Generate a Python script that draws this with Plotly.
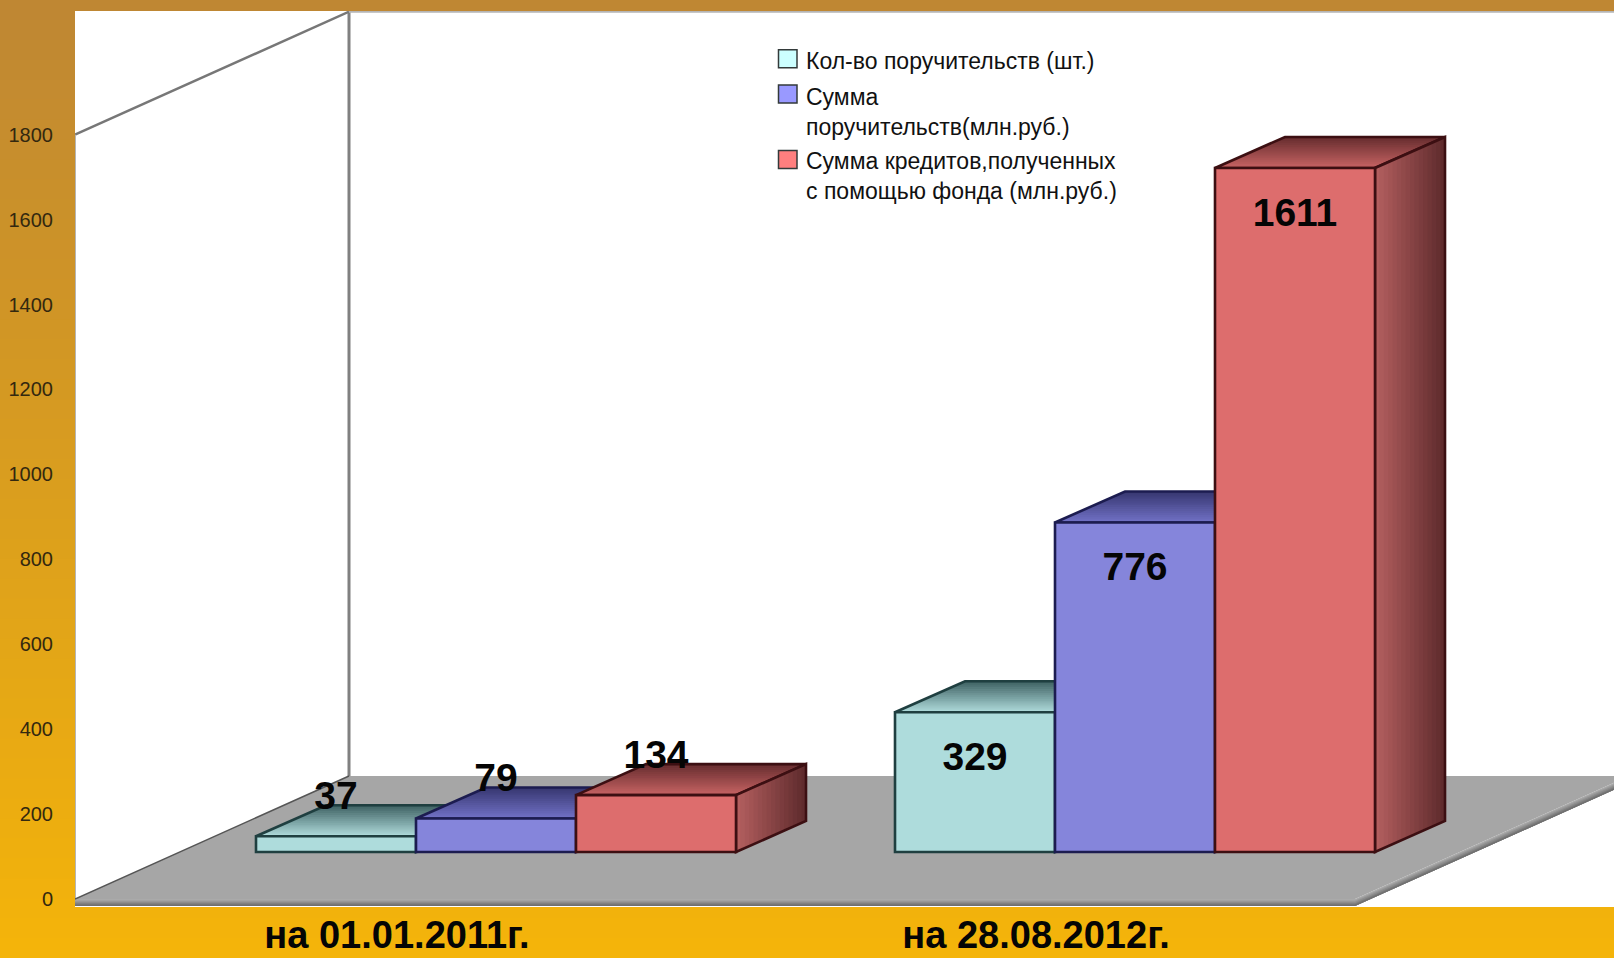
import plotly.graph_objects as go

# ---- data ----
GROUPS = ["на 01.01.2011г.", "на 28.08.2012г."]
SERIES = ["Кол-во поручительств (шт.)", "Сумма<br>поручительств(млн.руб.)",
          "Сумма кредитов,полученных<br>с помощью фонда (млн.руб.)"]
V_COUNT = [37, 329]
V_GUARANTEE = [79, 776]
V_CREDIT = [134, 1611]
Y_TICKS = [0, 200, 400, 600, 800, 1000, 1200, 1400, 1600, 1800]

# ---- styles ----
FRONT = ["#aedcdc", "#8585db", "#dd6d6d"]
EDGE = ["#1f3f40", "#1c1c50", "#3c0f12"]
LEGEND = ["#ccffff", "#9999ff", "#ff7f7f"]
TOP_FROM = [(172, 216, 216), (112, 112, 196), (196, 98, 98)]
TOP_TO = [(58, 92, 94), (52, 52, 108), (98, 42, 44)]
SIDE_FROM = [(172, 216, 216), (112, 112, 196), (178, 94, 94)]
SIDE_TO = [(58, 92, 94), (52, 52, 108), (90, 40, 42)]

W, H = 1614, 958
L, R, T, B = 75, 0, 11, 51
X_UNIT = 639.0      # pixels per group step
Y_UNIT = 0.4246     # pixels per value unit
X0_PX, Y0_PX = 496.0, 899.0
PW, PH = W - L - R, H - T - B

x_range = [(L - X0_PX) / X_UNIT, (W - R - X0_PX) / X_UNIT]
y_range = [(Y0_PX - (H - B)) / Y_UNIT, (Y0_PX - T) / Y_UNIT]

BAR_W = 160 / X_UNIT
BASE = 47 / Y_UNIT           # bars stand on the floor, in front of the wall
DX, DY = 70 / X_UNIT, 31 / Y_UNIT
WX, WY = 274 / X_UNIT, 123 / Y_UNIT
WALL_X = x_range[0]
FLOOR_R = (1355 - X0_PX) / X_UNIT
EDGE_H = 7 / Y_UNIT
TOP_WALL = 1800
OUTLINE = 2.6


def mix(a, b, t):
    return "rgb(%d,%d,%d)" % tuple(round(a[i] + (b[i] - a[i]) * t) for i in range(3))


def poly(pts, fill=None, line=None, width=0):
    d = "M" + " L".join(f"{x:.5f},{y:.3f}" for x, y in pts) + " Z"
    return dict(type="path", path=d, xref="x", yref="y", layer="below",
                fillcolor=fill or "rgba(0,0,0,0)",
                line=dict(color=line or "rgba(0,0,0,0)", width=width))


def px_x(p):
    return (p - L) / PW


def px_y(p):
    return (H - B - p) / PH


shapes = []
# gold backdrop, painted top-down: each band covers everything below it
GOLD_A, GOLD_B = (191, 135, 51), (244, 180, 10)
N_BG = 48
for k in range(N_BG):
    shapes.append(dict(type="rect", xref="paper", yref="paper", layer="below",
                       x0=px_x(0), x1=1, y0=px_y(H), y1=px_y(H * k / N_BG),
                       fillcolor=mix(GOLD_A, GOLD_B, k / (N_BG - 1)), line=dict(width=0)))

# white walls
shapes.append(dict(type="rect", xref="paper", yref="paper", layer="below", x0=0, x1=1, y0=0, y1=1,
                   fillcolor="white", line=dict(width=0)))
# floor
shapes.append(poly([(WALL_X, 0), (WALL_X + WX, WY), (FLOOR_R + WX, WY), (FLOOR_R, 0)], fill="#a6a6a6"))
N_EDGE = 5
for k in range(N_EDGE):
    c = mix((170, 170, 170), (112, 112, 112), k / (N_EDGE - 1))
    e = EDGE_H * k / N_EDGE
    shapes.append(poly([(WALL_X, -e), (FLOOR_R, -e), (FLOOR_R, -EDGE_H), (WALL_X, -EDGE_H)], fill=c))
    shapes.append(poly([(FLOOR_R, -e), (FLOOR_R + WX, WY - e), (FLOOR_R + WX, WY - EDGE_H), (FLOOR_R, -EDGE_H)], fill=c))
# wall lines
shapes.append(poly([(WALL_X + WX, WY), (WALL_X + WX, TOP_WALL + WY)], line="#808080", width=3))
shapes.append(poly([(WALL_X, TOP_WALL), (WALL_X + WX, TOP_WALL + WY)], line="#777777", width=2.5))
shapes.append(poly([(WALL_X, 0), (WALL_X, TOP_WALL)], line="#b5b5b5", width=2))
shapes.append(poly([(WALL_X + WX, TOP_WALL + WY), (x_range[1], TOP_WALL + WY)], line="#b5b5b5", width=2))
shapes.append(poly([(WALL_X, 0), (WALL_X + WX, WY)], line="#555555", width=1.5))

series_vals = [V_COUNT, V_GUARANTEE, V_CREDIT]
offsets = [-BAR_W, 0, BAR_W]
N_STRIP = 16
for g in range(len(GROUPS)):
    for s, vals in enumerate(series_vals):
        cx = g + offsets[s]
        xl, xr = cx - BAR_W / 2, cx + BAR_W / 2
        yb, yt = BASE, BASE + vals[g]
        # top face, painted front to back
        for k in range(N_STRIP):
            t = k / N_STRIP
            shapes.append(poly([(xl + DX * t, yt + DY * t), (xr + DX * t, yt + DY * t),
                                (xr + DX, yt + DY), (xl + DX, yt + DY)],
                               fill=mix(TOP_FROM[s], TOP_TO[s], t)))
        shapes.append(poly([(xl, yt), (xr, yt), (xr + DX, yt + DY), (xl + DX, yt + DY)],
                           line=EDGE[s], width=OUTLINE))
        # side face, painted left to right
        for k in range(N_STRIP):
            t = k / N_STRIP
            shapes.append(poly([(xr + DX * t, yb + DY * t), (xr + DX * t, yt + DY * t),
                                (xr + DX, yt + DY), (xr + DX, yb + DY)],
                               fill=mix(SIDE_FROM[s], SIDE_TO[s], t)))
        shapes.append(poly([(xr, yb), (xr, yt), (xr + DX, yt + DY), (xr + DX, yb + DY)],
                           line=EDGE[s], width=OUTLINE))

# legend: swatch aligned with the first line of its entry, as in the original
LEG_SWATCH_Y = [58.7, 94, 159.5]
LEG_TEXT_Y = [61, 111.5, 176.5]
annotations = []
for s, name in enumerate(SERIES):
    shapes.append(dict(type="rect", xref="paper", yref="paper", layer="above",
                       x0=px_x(778.5), x1=px_x(797), y0=px_y(LEG_SWATCH_Y[s] + 9), y1=px_y(LEG_SWATCH_Y[s] - 9),
                       fillcolor=LEGEND[s], line=dict(color="#333a3a", width=1.5)))
    annotations.append(dict(xref="paper", yref="paper", x=px_x(804), y=px_y(LEG_TEXT_Y[s]),
                            xanchor="left", yanchor="middle", align="left", showarrow=False, text=name,
                            font=dict(family="Liberation Sans", size=23, color="#111111")))

fig = go.Figure()
for s, vals in enumerate(series_vals):
    fig.add_trace(go.Bar(x=[g + offsets[s] for g in range(len(GROUPS))], y=vals, base=BASE,
                         width=BAR_W, name=SERIES[s].replace("<br>", " "),
                         marker=dict(color=FRONT[s], line=dict(color=EDGE[s], width=OUTLINE)),
                         showlegend=False, hoverinfo="skip"))
# value labels
lab_x, lab_y, lab_t = [], [], []
for s, vals in enumerate(series_vals):
    for g, v in enumerate(vals):
        lab_x.append(g + offsets[s])
        lab_y.append(BASE + v + (-48 / Y_UNIT if v >= 300 else 37 / Y_UNIT))
        lab_t.append(str(v))
fig.add_trace(go.Scatter(x=lab_x, y=lab_y, text=lab_t, mode="text", textposition="middle center",
                         textfont=dict(family="Liberation Sans", size=39, color="#050505", weight="bold"),
                         showlegend=False, hoverinfo="skip", cliponaxis=False))

fig.update_layout(
    width=W, height=H, margin=dict(l=L, r=R, t=T, b=B, autoexpand=False),
    paper_bgcolor="#e0a818", plot_bgcolor="white", barmode="overlay", shapes=shapes,
    annotations=annotations, showlegend=False,
    xaxis=dict(range=x_range, showgrid=False, zeroline=False, showline=False, ticks="",
               tickmode="array", tickvals=[g - 99 / X_UNIT for g in range(len(GROUPS))], ticktext=GROUPS,
               tickfont=dict(family="Liberation Sans", size=38, color="#050505", weight="bold"),
               ticklabelstandoff=2),
    yaxis=dict(range=y_range, showgrid=False, zeroline=False, showline=False, ticks="",
               tickmode="array", tickvals=Y_TICKS, ticktext=[str(v) for v in Y_TICKS],
               tickfont=dict(family="Liberation Sans", size=20, color="#33280f"),
               ticklabelstandoff=21),
)
fig.write_html("out.html", config=dict(displayModeBar=False),
               post_script="document.body.style.margin='0';document.body.style.overflow='hidden';")
